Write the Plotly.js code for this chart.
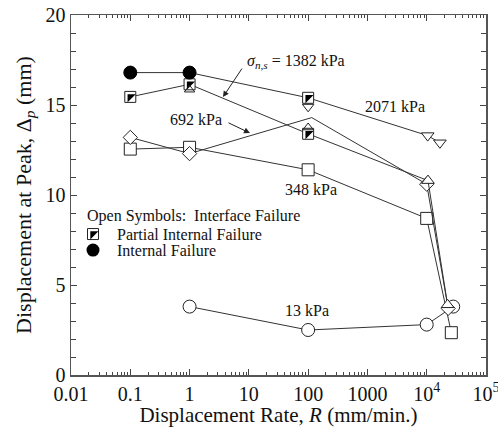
<!DOCTYPE html>
<html>
<head>
<meta charset="utf-8">
<script src="https://cdn.plot.ly/plotly-3.0.1.min.js"></script>
<style>html,body{margin:0;padding:0;background:#fff;}#chart{width:498px;height:427px;}</style>
</head>
<body>
<div id="chart"></div>
<script>
// ---- data ----
// 13 kPa (circles)
const rate13 = [1, 100, 10000, 28000];
const disp13 = [3.8, 2.5, 2.8, 3.8];
const mode13 = ['interface', 'interface', 'interface', 'interface'];
// 348 kPa (squares)
const rate348 = [0.1, 1, 100, 10000, 26000];
const disp348 = [12.55, 12.65, 11.4, 8.7, 2.35];
const mode348 = ['interface', 'interface', 'interface', 'interface', 'interface'];
// 692 kPa (diamonds)
const rate692 = [0.1, 1, 115, 10000, 23000];
const disp692 = [13.2, 12.3, 14.3, 10.6, 3.7];
const mode692 = ['interface', 'interface', 'none', 'interface', 'interface'];
// 1382 kPa (up triangles)
const rate1382 = [0.1, 1, 100, 10500, 22500];
const disp1382 = [15.45, 16.15, 13.4, 10.8, 3.9];
const mode1382 = ['partial', 'partial', 'partial', 'interface', 'interface'];
// 2071 kPa (down triangles)
const rate2071 = [0.1, 1, 100, 10400, 16700];
const disp2071 = [16.8, 16.8, 15.4, 13.3, 12.9];
const mode2071 = ['internal', 'internal', 'partial', 'interface', 'interface'];
// open series symbols drawn beside partial markers
const extraRate1382 = [100, 1];
const extraDisp1382 = [13.75, 15.85];
const extraRate2071 = [100];
const extraDisp2071 = [14.9];

const xTickVals = [0.01, 0.1, 1, 10, 100, 1000, 10000, 100000];
const xTickText = ['0.01', '0.1', '1', '10', '100', '1000', '10<sup>4</sup>', '10<sup>5</sup>'];
const xMinorVals = [];
for (let d = -2; d < 5; d++) for (let k = 2; k <= 9; k++) xMinorVals.push(k * Math.pow(10, d));

const FONT = '"Liberation Serif", "Times New Roman", Tinos, "DejaVu Serif", serif';
const LINE = '#333';
const traces = [];

function series(rate, disp, mode, sym, size) {
  traces.push({x: rate, y: disp, type: 'scatter', mode: 'lines',
    line: {color: LINE, width: 1}, hoverinfo: 'skip', showlegend: false});
  const ix = [], iy = [], px = [], py = [], fx = [], fy = [];
  mode.forEach((m, i) => {
    if (m === 'interface') { ix.push(rate[i]); iy.push(disp[i]); }
    else if (m === 'partial') { px.push(rate[i]); py.push(disp[i]); }
    else if (m === 'internal') { fx.push(rate[i]); fy.push(disp[i]); }
  });
  traces.push({x: ix, y: iy, type: 'scatter', mode: 'markers', showlegend: false,
    marker: {symbol: sym, size: size, color: '#fff', line: {color: '#222', width: 1}}});
  partial(px, py);
  traces.push({x: fx, y: fy, type: 'scatter', mode: 'markers', showlegend: false,
    marker: {symbol: 'circle', size: 13, color: '#000', line: {color: '#000', width: 1}}});
}
function partial(px, py) {
  traces.push({x: px, y: py, type: 'scatter', mode: 'markers', showlegend: false,
    marker: {symbol: 'square', size: 11, color: '#fff', line: {color: '#222', width: 1}}});
  traces.push({x: px, y: py, type: 'scatter', mode: 'markers', showlegend: false,
    marker: {symbol: 'triangle-nw', size: 9, color: '#000', line: {width: 0}}});
}

series(rate13, disp13, mode13, 'circle', 13);
series(rate348, disp348, mode348, 'square', 12);
series(rate692, disp692, mode692, 'diamond', 11);
series(rate1382, disp1382, mode1382, 'triangle-up', 11);
series(rate2071, disp2071, mode2071, 'triangle-down', 11);
traces.push({x: extraRate1382, y: extraDisp1382, type: 'scatter', mode: 'markers', showlegend: false,
  marker: {symbol: 'triangle-up', size: 9, color: 'rgba(255,255,255,0)', line: {color: '#222', width: 1}}});
traces.push({x: extraRate2071, y: extraDisp2071, type: 'scatter', mode: 'markers', showlegend: false,
  marker: {symbol: 'triangle-down', size: 10, color: 'rgba(255,255,255,0)', line: {color: '#222', width: 1}}});

// legend key symbols
const keyRate = [0.0235];
const keyPartial = [7.83];
const keyInternal = [6.94];
partial(keyRate, keyPartial);
traces.push({x: keyRate, y: keyInternal, type: 'scatter', mode: 'markers', showlegend: false,
  marker: {symbol: 'circle', size: 13, color: '#000'}});

const tf = {family: FONT, size: 16, color: '#111'};
const annotations = [
  {x: 1.794, y: 17.39, text: '<i>σ</i><sub><i>n,s</i></sub> = 1382 kPa', showarrow: false, font: tf},
  {x: 0.563, y: 15.44, ax: 20, ay: -30, text: '', showarrow: true, arrowhead: 2, arrowsize: 1.2, arrowwidth: 1, arrowcolor: '#222'},
  {x: 3.464, y: 14.94, text: '2071 kPa', showarrow: false, font: tf},
  {x: 0.108, y: 14.22, text: '692 kPa', showarrow: false, font: tf},
  {x: 1.019, y: 13.44, ax: -23, ay: -11, text: '', showarrow: true, arrowhead: 2, arrowsize: 1.2, arrowwidth: 1, arrowcolor: '#222'},
  {x: 2.047, y: 10.28, text: '348 kPa', showarrow: false, font: tf},
  {x: 1.98, y: 3.56, text: '13 kPa', showarrow: false, font: tf},
  {x: -1.764, y: 8.83, xanchor: 'left', text: 'Open Symbols:  Interface Failure', showarrow: false, font: tf},
  {x: -1.258, y: 7.83, xanchor: 'left', text: 'Partial Internal Failure', showarrow: false, font: tf},
  {x: -1.258, y: 6.94, xanchor: 'left', text: 'Internal Failure', showarrow: false, font: tf}
];

const layout = {
  width: 498, height: 427,
  margin: {l: 71, r: 12, t: 15, b: 52},
  paper_bgcolor: '#fff', plot_bgcolor: '#fff',
  showlegend: false,
  font: {family: FONT, color: '#111'},
  xaxis: {
    type: 'log', range: [-2, 5], tickmode: 'array', tickvals: xTickVals, ticktext: xTickText,
    ticks: 'inside', ticklen: 6, tickcolor: '#444', showline: true, linecolor: '#555', linewidth: 1.5,
    mirror: 'allticks', showgrid: false, zeroline: false, ticklabeloverflow: 'allow',
    tickfont: {family: FONT, size: 20, color: '#111'},
    minor: {tickmode: 'array', tickvals: xMinorVals, ticks: 'inside', ticklen: 3, tickcolor: '#444', showgrid: false},
    title: {text: 'Displacement Rate, <i>R</i> (mm/min.)', font: {family: FONT, size: 21, color: '#111'}, standoff: 6}
  },
  yaxis: {
    range: [0, 20], tickmode: 'linear', tick0: 0, dtick: 5,
    ticks: 'inside', ticklen: 6, tickcolor: '#444', showline: true, linecolor: '#555', linewidth: 1.5,
    mirror: 'allticks', showgrid: false, zeroline: false,
    tickfont: {family: FONT, size: 20, color: '#111'},
    minor: {dtick: 1, ticks: 'inside', ticklen: 5, tickcolor: '#444', showgrid: false},
    title: {text: 'Displacement at Peak, Δ<sub><i>p</i></sub> (mm)', font: {family: FONT, size: 22, color: '#111'}, standoff: 8}
  },
  annotations: annotations
};

Plotly.newPlot('chart', traces, layout, {staticPlot: true, displayModeBar: false});
</script>
</body>
</html>
